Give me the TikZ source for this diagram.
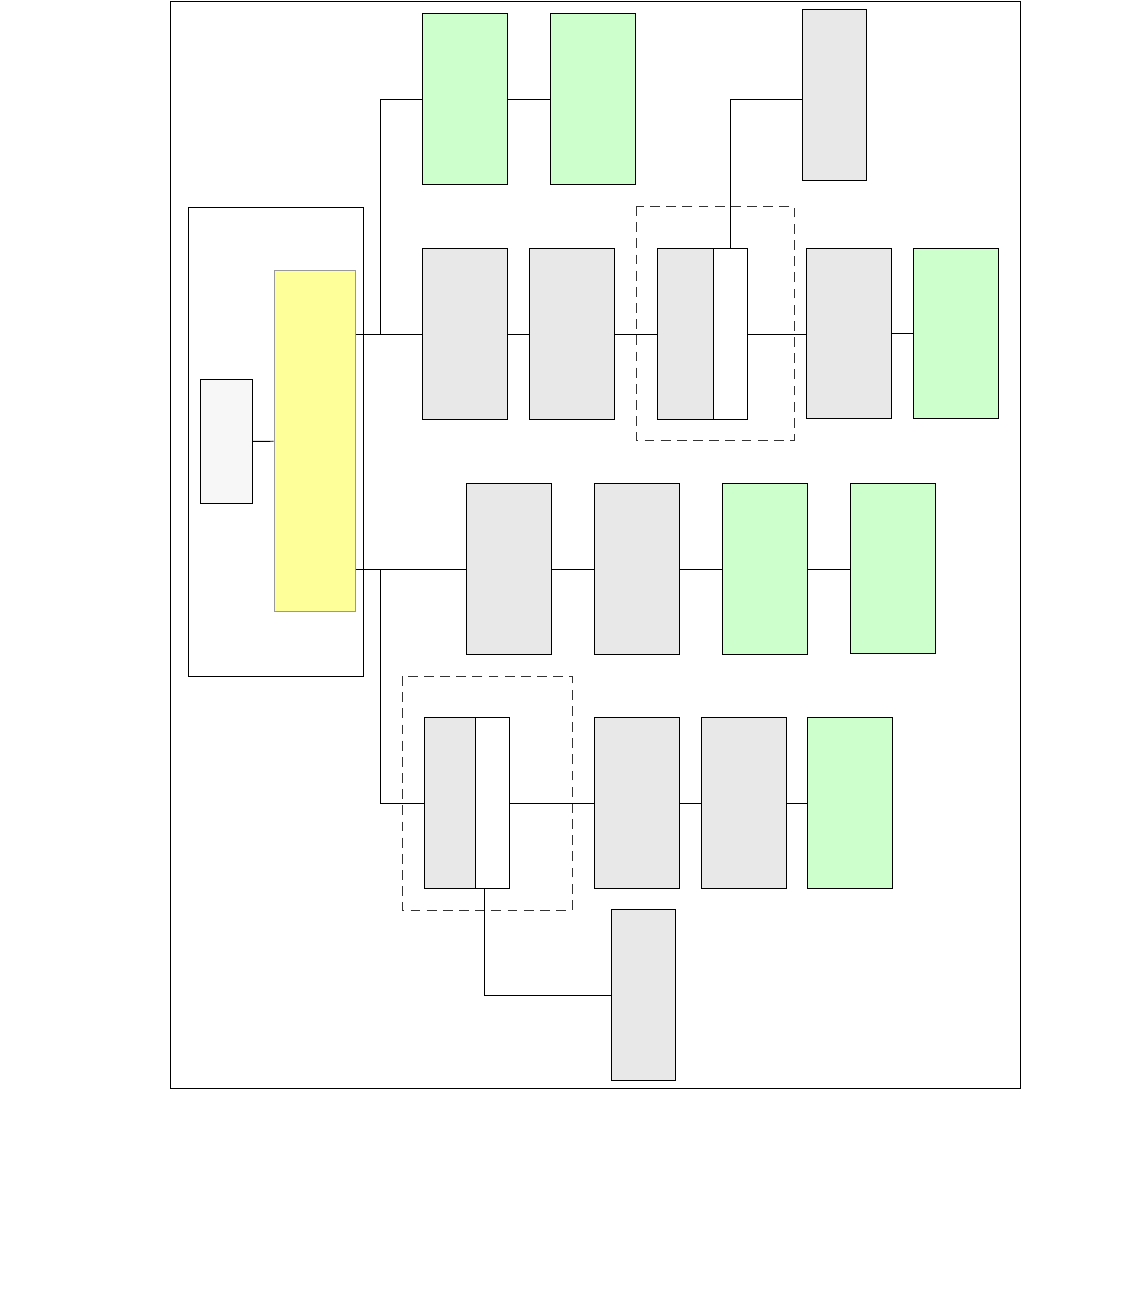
\documentclass[tikz,border=0pt]{standalone}
\definecolor{boxgreen}{HTML}{CCFFCC}
\definecolor{boxgray}{HTML}{E8E8E8}
\definecolor{boxyellow}{HTML}{FFFF99}
\definecolor{boxlight}{HTML}{F7F7F7}
\tikzset{
	blk/.style={draw, inner sep=0, outer sep=0, minimum width=2.125cm, minimum height=4.25cm},
	grayblk/.style={blk, fill=boxgray},
	greenblk/.style={blk, fill=boxgreen},
	narrowblk/.style={blk, fill=boxgray, minimum width=1.6cm},
	groupbox/.style={draw=black!80, dash pattern=on 7pt off 4.5pt},
}
\begin{document}
\begin{tikzpicture}[x=0.025cm, y=-0.025cm, line width=0.7pt]
		\useasboundingbox (0,0) rectangle (1134,1290);
		\draw (170,1) rectangle (1020,1088);
		
		% left group
		\draw (188,207) rectangle (363,676);
		\node[draw=black!40, fill=boxyellow, inner sep=0, minimum width=2.025cm, minimum height=8.5cm] (yel) at (314.5,441) {};
		\node[draw, fill=boxlight, inner sep=0, minimum width=1.3cm, minimum height=3.075cm] (sm) at (226,441.5) {};
		\draw (sm) -- (yel);
		
		% top row
		\node[greenblk] (ga) at (464.5,99) {};
		\node[greenblk] (gb) at (592.5,99) {};
		\node[narrowblk] (gt) at (834,95) {};
		
		% second row
		\node[grayblk] (g1) at (465,334) {};
		\node[grayblk] (g2) at (571.5,334) {};
		\node[draw, fill=boxgray, inner sep=0, minimum width=1.4cm, minimum height=4.25cm] (s1a) at (685,334) {};
		\node[draw, fill=white, inner sep=0, minimum width=0.85cm, minimum height=4.25cm] (s1b) at (730,334) {};
		\node[grayblk] (g3) at (849,333.5) {};
		\node[greenblk] (gr1) at (955.5,333.5) {};
		\draw[groupbox] (636,206) rectangle (794,440);
		
		% third row
		\node[grayblk] (h1) at (508.5,569) {};
		\node[grayblk] (h2) at (636.5,569) {};
		\node[greenblk] (h3) at (764.5,569) {};
		\node[greenblk] (h4) at (892.5,568.5) {};
		
		% fourth row
		\node[draw, fill=boxgray, inner sep=0, minimum width=1.275cm, minimum height=4.25cm] (t1a) at (449.5,803) {};
		\node[draw, fill=white, inner sep=0, minimum width=0.85cm, minimum height=4.25cm] (t1b) at (492,803) {};
		\node[grayblk] (k1) at (636.5,803) {};
		\node[grayblk] (k2) at (743.5,803) {};
		\node[greenblk] (k3) at (849.5,803) {};
		\node[narrowblk] (gl) at (643,995) {};
		\draw[groupbox] (402,676) rectangle (572,910);
		
		% connectors
		\coordinate (j1) at (380,334);
		\coordinate (j2) at (380,569);
		\draw (yel.east |- g1) -- (g1);
		\draw (j1) |- (ga);
		\draw (ga) -- (gb);
		\draw (g1) -- (g2);
		\draw (g2) -- (s1a);
		\draw (s1b) -- (s1b -| g3.west);
		\draw (g3) -- (gr1);
		\draw (s1b.north) |- ([yshift=-0.1cm]gt.west);
		\draw (yel.east |- h1) -- (h1);
		\draw (h1) -- (h2);
		\draw (h2) -- (h3);
		\draw (h3) -- (h3 -| h4.west);
		\draw (j2) |- (t1a);
		\draw (t1b) -- (k1);
		\draw (k1) -- (k2);
		\draw (k2) -- (k3);
		\draw ([xshift=-0.2cm]t1b.south) |- (gl);
		\end{tikzpicture}
\end{document}
